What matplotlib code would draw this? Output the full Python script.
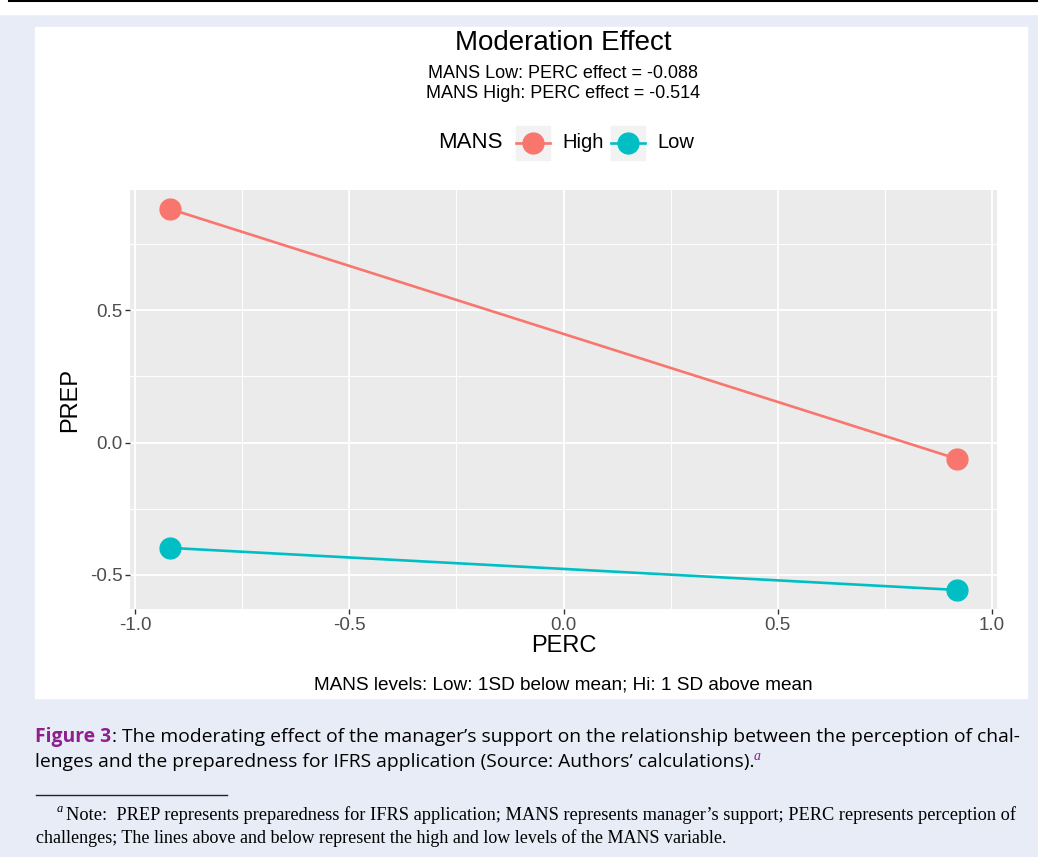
import matplotlib
matplotlib.use("Agg")
import matplotlib.pyplot as plt
from matplotlib.lines import Line2D
from matplotlib.patches import Rectangle

# data
perc = [-0.918, 0.918]
prep_high = [0.883, -0.061]
prep_low = [-0.398, -0.557]
groups = ["High", "Low"]
colors = {"High": "#F8766D", "Low": "#00BFC4"}
effects = {"Low": -0.088, "High": -0.514}
x_ticks = [-1.0, -0.5, 0.0, 0.5, 1.0]
y_ticks = [-0.5, 0.0, 0.5]

W, H = 1038, 857
BG = "#e8ecf6"
PURPLE = "#8e1f8f"
SANS = ["Liberation Sans", "DejaVu Sans"]
CAP = ["Open Sans", "DejaVu Sans"]
SERIF = ["Liberation Serif", "DejaVu Serif"]


def fx(px):
    return px / W


def fy(py):
    return 1 - py / H


fig = plt.figure(figsize=(W / 100, H / 100), dpi=100, facecolor=BG)

# page decorations: top rule, white frame, outer margin
fig.add_artist(Rectangle((0, fy(14)), fx(9), 1, transform=fig.transFigure, color="white", zorder=0))
fig.add_artist(Rectangle((0, fy(14)), 1, 1, transform=fig.transFigure, color="white", zorder=0))
fig.add_artist(Line2D([fx(9), 1], [fy(1), fy(1)], transform=fig.transFigure, color="black", lw=1.5))
fig.add_artist(Rectangle((fx(35), fy(698)), fx(1027 - 35), (698 - 27) / H,
                         transform=fig.transFigure, color="white", zorder=0))

ax = fig.add_axes([fx(130), fy(609), fx(997 - 130), (609 - 190) / H])
ax.set_facecolor("#EBEBEB")
for s in ax.spines.values():
    s.set_visible(False)

ax.plot(perc, prep_high, color=colors["High"], lw=1.9, marker="o", ms=15, zorder=3)
ax.plot(perc, prep_low, color=colors["Low"], lw=1.9, marker="o", ms=15, zorder=3)

ax.set_xlim(-1.012, 1.012)
ax.set_ylim(-0.629, 0.955)
ax.set_xticks(x_ticks)
ax.set_xticklabels([f"{v:.1f}" for v in x_ticks])
ax.set_yticks(y_ticks)
ax.set_yticklabels([f"{v:.1f}" for v in y_ticks])
ax.set_xticks([-0.75, -0.25, 0.25, 0.75], minor=True)
ax.set_yticks([-0.25, 0.25, 0.75], minor=True)
ax.grid(which="major", color="white", lw=1.3)
ax.grid(which="minor", color="white", lw=0.7)
ax.set_axisbelow(True)
ax.tick_params(which="major", length=3.5, width=1, color="#333333", labelcolor="#4d4d4d",
               labelsize=13.5, pad=2)
ax.tick_params(which="minor", length=0)
for lab in ax.get_xticklabels() + ax.get_yticklabels():
    lab.set_family(SANS)

ax.set_xlabel("PERC", family=SANS, fontsize=17, labelpad=1)
ax.set_ylabel("PREP", family=SANS, fontsize=17, labelpad=6)

# titles
fig.text(fx(563), fy(43), "Moderation Effect", family=SANS, fontsize=20, ha="center", va="center")
fig.text(fx(563), fy(74), f"MANS Low: PERC effect = {effects['Low']:.3f}",
         family=SANS, fontsize=13, ha="center", va="center")
fig.text(fx(563), fy(93), f"MANS High: PERC effect = {effects['High']:.3f}",
         family=SANS, fontsize=13, ha="center", va="center")
fig.text(fx(563), fy(685), "MANS levels: Low: 1SD below mean; Hi: 1 SD above mean",
         family=SANS, fontsize=13.7, ha="center", va="center")

# legend
fig.text(fx(438), fy(143), "MANS", family=SANS, fontsize=16, ha="left", va="center")
key_x = {"High": 533, "Low": 628}
for g in groups:
    cx = key_x[g]
    fig.add_artist(Rectangle((fx(cx - 17), fy(160)), fx(34), 34 / H, transform=fig.transFigure,
                             color="#F2F2F2", zorder=1))
    fig.add_artist(Line2D([fx(cx - 17), fx(cx + 17)], [fy(143), fy(143)], transform=fig.transFigure,
                          color=colors[g], lw=1.9, zorder=2))
    fig.add_artist(Line2D([fx(cx)], [fy(143)], transform=fig.transFigure, color=colors[g],
                          marker="o", ms=15, lw=0, zorder=3))
    fig.text(fx(cx + 29), fy(143), g, family=SANS, fontsize=14.5, ha="left", va="center")

# caption
renderer = fig.canvas.get_renderer()
fig3 = fig.text(fx(35), fy(737), "Figure 3", family=CAP, fontsize=13.9, fontweight="bold",
                color=PURPLE, ha="left", va="center")
x_end = fig3.get_window_extent(renderer).x1
fig.text(x_end / W + 0.001, fy(737),
         ": The moderating effect of the manager\u2019s support on the relationship between the perception of chal-",
         family=CAP, fontsize=13.9, ha="left", va="center")
line2 = fig.text(fx(35), fy(762),
                 "lenges and the preparedness for IFRS application (Source: Authors\u2019 calculations).",
                 family=CAP, fontsize=13.9, ha="left", va="center")
x_end = line2.get_window_extent(renderer).x1
fig.text(x_end / W - 0.001, fy(756), "a", family=SERIF, fontsize=10, style="italic",
         color=PURPLE, ha="left", va="center")

fig.add_artist(Line2D([fx(36), fx(227)], [fy(795), fy(795)], transform=fig.transFigure,
                      color="#222222", lw=1))
fig.text(fx(57), fy(809), "a", family=SERIF, fontsize=9, style="italic", ha="left", va="center")
fig.text(fx(66), fy(815),
         "Note:  PREP represents preparedness for IFRS application; MANS represents manager\u2019s support; "
         "PERC represents perception of",
         family=SERIF, fontsize=13.2, ha="left", va="center")
fig.text(fx(36), fy(838),
         "challenges; The lines above and below represent the high and low levels of the MANS variable.",
         family=SERIF, fontsize=13, ha="left", va="center")

fig.savefig("out.png", dpi=100, facecolor=BG)
